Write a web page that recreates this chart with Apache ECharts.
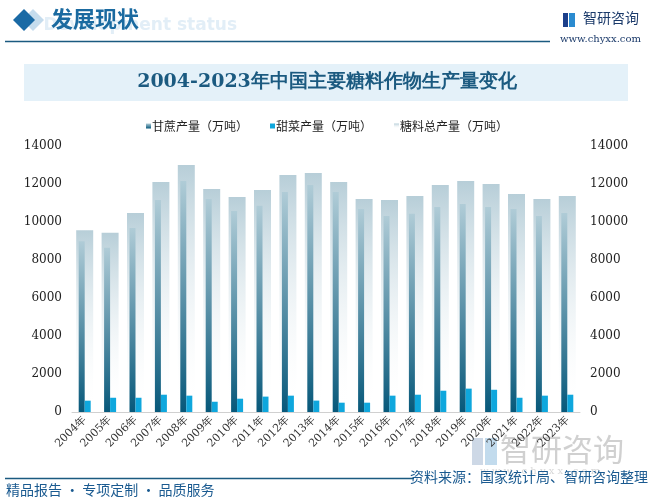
<!DOCTYPE html>
<html><head><meta charset="utf-8">
<script src="https://cdn.jsdelivr.net/npm/echarts@6/dist/echarts.min.js"></script>
<style>html,body{margin:0;padding:0;background:#fff}#c{width:654px;height:501px}</style>
</head><body><div id="c"></div>
<script>
const years = ['2004年','2005年','2006年','2007年','2008年','2009年','2010年','2011年','2012年','2013年','2014年','2015年','2016年','2017年','2018年','2019年','2020年','2021年','2022年','2023年'];
const caneProd = [8985,8640,9690,11160,12160,11210,10580,10850,11580,11950,11580,10690,10320,10430,10790,10950,10790,10690,10320,10480];
const beetProd = [596,750,750,910,860,540,700,810,860,600,490,490,860,910,1120,1230,1170,750,860,910];
const totalProd = [9570,9430,10480,12110,13000,11740,11320,11690,12480,12580,12110,11210,11160,11370,11950,12160,12000,11480,11210,11370];
const legendNames = ['甘蔗产量（万吨）','甜菜产量（万吨）','糖料总产量（万吨）'];
const yTicks = {min:0, max:14000, interval:2000};

const chart = echarts.init(document.getElementById('c'));
const serif = '"DejaVu Serif","Liberation Serif",serif';
const cjk = '"Noto Sans CJK SC","Noto Sans",sans-serif';
const dark = '#1b5a80';
chart.setOption({
  backgroundColor:'#fff',
  animation:false,
  graphic:[
    {type:'text',right:654-237,top:17,style:{text:'Development status',font:'bold 17px "DejaVu Sans",sans-serif',fill:'#e2eef7'}},
    {type:'polygon',shape:{points:[[33,9],[44,20],[33,31],[22,20]]},style:{fill:'#c5dced'}},
    {type:'polygon',shape:{points:[[24,9],[35,20],[24,31],[13,20]]},style:{fill:'#1a6aa5'}},
    {type:'text',left:51,top:8,style:{text:'发展现状',font:'bold 22px '+cjk,fill:'#1a6aa0'}},
    {type:'line',shape:{x1:5,y1:41.5,x2:550,y2:41.5},style:{stroke:dark,lineWidth:1.5}},
    {type:'rect',shape:{x:563,y:13,width:5,height:14},style:{fill:'#1b3f8a'}},
    {type:'rect',shape:{x:569,y:13,width:6,height:14},style:{fill:'#2a8bd0'}},
    {type:'text',left:583,top:11,style:{text:'智研咨询',font:'14px '+cjk,fill:'#1b3a6a'}},
    {type:'text',left:560,top:34,style:{text:'www.chyxx.com',font:'10px '+serif,fill:'#1b3a6a'}},
    {type:'rect',shape:{x:24,y:64,width:604,height:37},style:{fill:'#e4f1f9'}},
    {type:'text',left:'center',top:73,style:{text:'2004-2023年中国主要糖料作物生产量变化',font:'bold 19px '+serif,fill:'#1b5a80'}},
    {type:'rect',shape:{x:472,y:438,width:11,height:27},style:{fill:'#b8c8dc',opacity:0.7}},
    {type:'rect',shape:{x:485,y:438,width:12,height:27},style:{fill:'#a8cce6',opacity:0.7}},
    {type:'text',left:500,top:434,style:{text:'智研咨询',font:'31px '+cjk,fill:'#c8c8c8',opacity:0.85}},
    {type:'text',left:480,top:466,style:{text:'w w w . c h y x x . c o m',font:'10px '+serif,fill:'#d8d8d8'}},
    {type:'line',shape:{x1:5,y1:478.5,x2:414,y2:478.5},style:{stroke:dark,lineWidth:1.5}},
    {type:'text',right:6,top:470,style:{text:'资料来源：国家统计局、智研咨询整理',font:'14px '+cjk,fill:'#1a5a90'}},
    {type:'text',left:6,top:483,style:{text:'精品报告 · 专项定制 · 品质服务',font:'14px '+cjk,fill:'#1a5a90'}}
  ],
  legend:{
    data:legendNames, top:115, left:'center', itemWidth:5, itemHeight:5, itemGap:22,
    icon:'rect', textStyle:{fontFamily:cjk,fontSize:12,color:'#222',padding:[0,0,0,-4]}
  },
  grid:{left:72,right:74,top:146,bottom:89},
  xAxis:[
    {type:'category',data:years,axisLine:{lineStyle:{color:'#d0d0d0'}},axisTick:{show:false},
     axisLabel:{rotate:45,fontFamily:serif,fontSize:11,color:'#333',margin:6,interval:0}},
    {type:'category',data:years,show:false}
  ],
  yAxis:[
    {type:'value',min:yTicks.min,max:yTicks.max,interval:yTicks.interval,splitLine:{show:false},
     axisLabel:{formatter:v=>String(v),fontFamily:serif,fontSize:12,color:'#222',margin:10}},
    {type:'value',min:yTicks.min,max:yTicks.max,interval:yTicks.interval,splitLine:{show:false},
     axisLabel:{formatter:v=>String(v),fontFamily:serif,fontSize:12,color:'#222',margin:10}}
  ],
  series:[
    {name:legendNames[2],type:'bar',xAxisIndex:1,data:totalProd,barWidth:17,z:1,
     itemStyle:{color:new echarts.graphic.LinearGradient(0,0,0,1,[{offset:0,color:'#b7ced8'},{offset:1,color:'rgba(255,255,255,0)'}])}},
    {name:legendNames[0],type:'bar',data:caneProd,barWidth:6,barGap:'0%',z:2,
     itemStyle:{color:new echarts.graphic.LinearGradient(0,0,0,1,[{offset:0,color:'#b0ccd7'},{offset:1,color:'#07587a'}])}},
    {name:legendNames[1],type:'bar',data:beetProd,barWidth:6,z:2,
     itemStyle:{color:'#0fa7dd'}}
  ]
});
</script></body></html>
